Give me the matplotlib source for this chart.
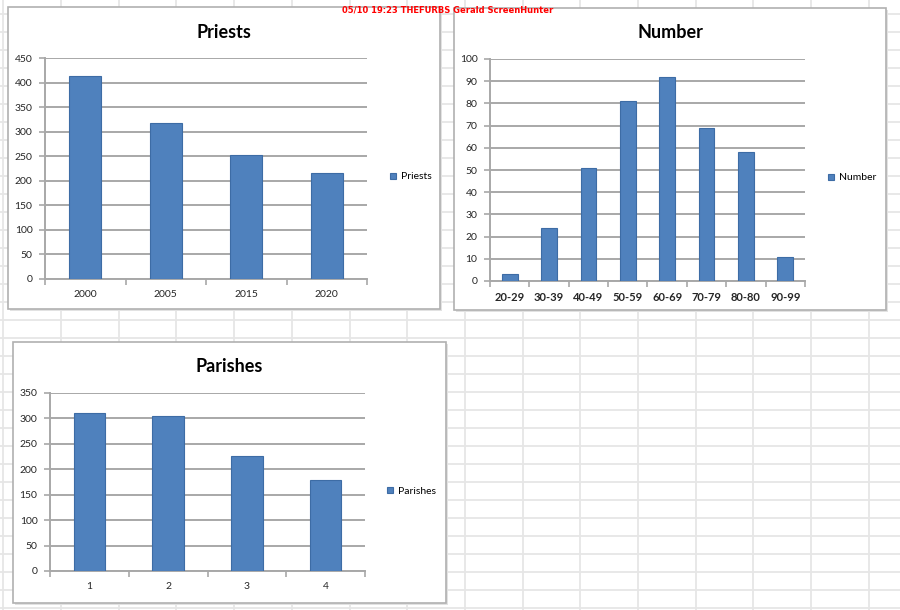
import numpy as np
import matplotlib
matplotlib.use("Agg")
from matplotlib import pyplot as plt
from matplotlib.patches import Rectangle

# data
priests_years = ["2000", "2005", "2015", "2020"]
priests_values = [413, 317, 253, 215]

number_ages = ["20-29", "30-39", "40-49", "50-59", "60-69", "70-79", "80-80", "90-99"]
number_values = [3, 24, 51, 81, 92, 69, 58, 11]

parishes_labels = ["1", "2", "3", "4"]
parishes_values = [311, 304, 226, 179]

W, H = 900, 610
bar_color = "#4f81bd"
bar_edge = "#3d6ca5"
grid_color = "#a8a8a8"

plt.rcParams["font.family"] = ["Lato", "DejaVu Sans"]

fig = plt.figure(figsize=(W / 100, H / 100), dpi=100)

# spreadsheet background
bg = fig.add_axes([0, 0, 1, 1])
bg.set_xlim(0, W)
bg.set_ylim(H, 0)
bg.axis("off")
for x in np.arange(61 - 57.7, W, 57.7):
    bg.axvline(x, color="#e6e6e6", lw=1.3, zorder=0)
for y in np.arange(320 - 18 * 18, H, 18):
    bg.axhline(y, color="#e6e6e6", lw=1.3, zorder=0)


def px_axes(x0, y0, x1, y1):
    return fig.add_axes([x0 / W, 1 - y1 / H, (x1 - x0) / W, (y1 - y0) / H])


def chart(frame, plot, title, labels, values, ymax, ystep, legend_xy, tick_size=7.5, tick_weight="normal"):
    fx0, fy0, fx1, fy1 = frame
    bg.add_patch(Rectangle((fx0 + 1.5, fy0 + 1.5), fx1 - fx0, fy1 - fy0,
                           facecolor="#e2e2e2", edgecolor="none", zorder=1))
    bg.add_patch(Rectangle((fx0, fy0), fx1 - fx0, fy1 - fy0,
                           facecolor="white", edgecolor="#b0b0b0", lw=1.2, zorder=2))
    fig.text((fx0 + fx1) / 2 / W, 1 - (fy0 + 25) / H, title, ha="center", va="center",
             fontsize=13, fontweight="bold")

    ax = px_axes(*plot)
    ax.set_facecolor("none")
    n = len(values)
    x = np.arange(n)
    ax.bar(x, values, width=0.4, color=bar_color, edgecolor=bar_edge, lw=0.8,
           label=title, zorder=3)
    ax.set_xlim(-0.5, n - 0.5)
    ax.set_ylim(0, ymax)
    ax.set_yticks(np.arange(0, ymax + 1, ystep))
    ax.yaxis.grid(True, color=grid_color, lw=1.4, zorder=0)
    ax.set_axisbelow(True)
    ax.set_xticks(x)
    ax.set_xticklabels(labels, fontsize=tick_size, fontweight=tick_weight, color="#262626")
    ax.set_xticks(np.arange(-0.5, n), minor=True)
    ax.tick_params(axis="x", which="major", length=0, pad=8)
    ax.tick_params(axis="x", which="minor", length=4, color=grid_color, width=1.2, direction="out")
    ax.tick_params(axis="y", length=4, color=grid_color, width=1.2, labelsize=7.5,
                   labelcolor="#262626", pad=5)
    for s in ("top", "right"):
        ax.spines[s].set_visible(False)
    for s in ("left", "bottom"):
        ax.spines[s].set_color(grid_color)
        ax.spines[s].set_linewidth(1.4)
    lx, ly = legend_xy
    ax.legend(loc="center left", bbox_to_anchor=(lx / W, 1 - ly / H),
              bbox_transform=fig.transFigure, frameon=False, fontsize=7.5,
              handlelength=0.6, handleheight=0.6, handletextpad=0.4, borderpad=0)
    return ax


chart((8, 7, 440, 309), (45, 58, 367, 279), "Priests",
      priests_years, priests_values, 450, 50, (385, 177))
chart((454, 8, 886, 310), (490, 59, 805, 281), "Number",
      number_ages, number_values, 100, 10, (823, 178), tick_size=8, tick_weight="bold")
chart((13, 342, 446, 603), (50, 393, 365, 571), "Parishes",
      parishes_labels, parishes_values, 350, 50, (382, 491))

fig.text(448 / W, 1 - 10 / H, "05/10 19:23 THEFURBS Gerald ScreenHunter",
         ha="center", va="center", color="red", fontsize=6, fontweight="bold",
         family="DejaVu Sans")

fig.savefig("out.png", dpi=100)
